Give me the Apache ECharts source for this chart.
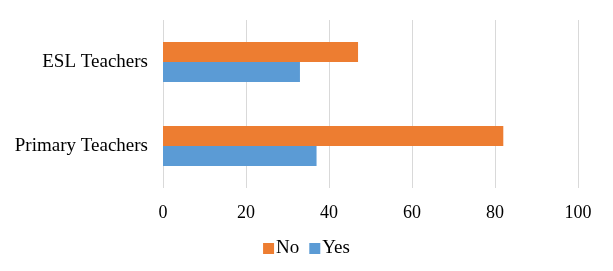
<!DOCTYPE html>
<html><head><meta charset="utf-8">
<script src="https://cdn.jsdelivr.net/npm/echarts@6/dist/echarts.min.js"></script>
<style>html,body{margin:0;padding:0;background:#fff}#c{width:613px;height:271px}</style>
</head><body><div id="c"></div>
<script>
const categories = ['Primary Teachers', 'ESL Teachers'];
const noValues = [82, 47];
const yesValues = [37, 33];
const xTicks = [0, 20, 40, 60, 80, 100];

const font = '"Liberation Serif", "Times New Roman", serif';
const chart = echarts.init(document.getElementById('c'));
chart.setOption({
  animation: false,
  textStyle: { fontFamily: font },
  grid: { left: 163, right: 35, top: 20, bottom: 83, containLabel: false },
  legend: {
    data: ['No', 'Yes'],
    bottom: 8, left: 'center',
    itemWidth: 11, itemHeight: 11, itemGap: 10,
    icon: 'rect',
    textStyle: { fontFamily: font, fontSize: 19, color: '#000', padding: [0, 0, 0, -3] }
  },
  xAxis: {
    type: 'value', min: xTicks[0], max: xTicks[xTicks.length - 1], interval: 20,
    axisLine: { show: false }, axisTick: { show: false },
    splitLine: { show: true, lineStyle: { color: '#d9d9d9', width: 1 } },
    axisLabel: { fontFamily: font, fontSize: 18, color: '#000', margin: 16 }
  },
  yAxis: {
    type: 'category', data: categories,
    axisLine: { show: false }, axisTick: { show: false },
    axisLabel: { fontFamily: font, fontSize: 19, color: '#000', margin: 15 }
  },
  series: [
    { name: 'No', type: 'bar', data: noValues, barWidth: 20, barGap: '0%', itemStyle: { color: '#ED7D31' } },
    { name: 'Yes', type: 'bar', data: yesValues, barWidth: 20, barGap: '0%', itemStyle: { color: '#5B9BD5' } }
  ]
});
</script></body></html>
